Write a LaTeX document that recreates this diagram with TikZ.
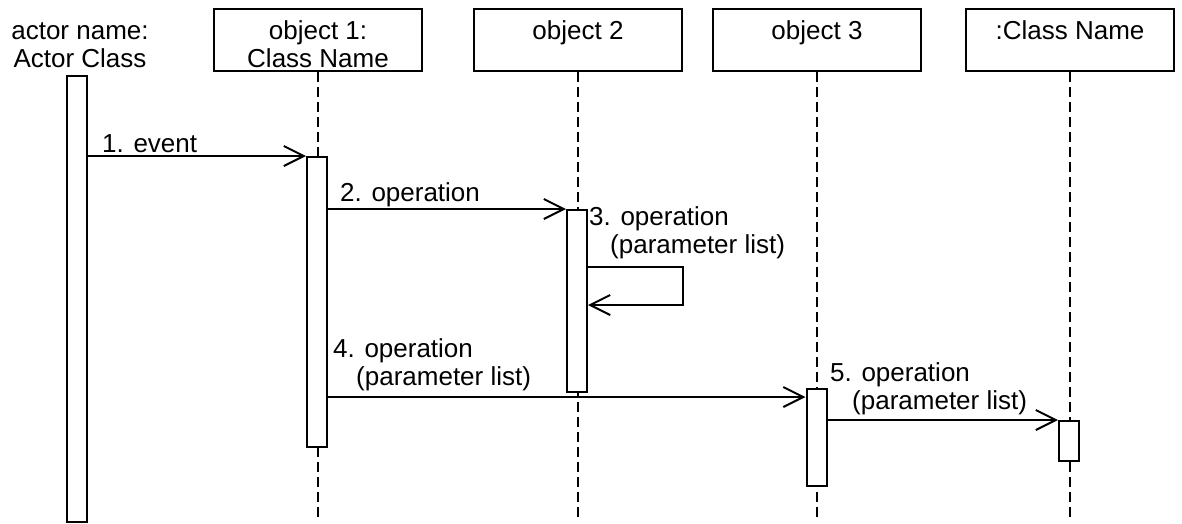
\documentclass[tikz,border=0pt]{standalone}
\usepackage{fontspec}
\setmainfont{Liberation Sans}
\usetikzlibrary{arrows.meta}

\begin{document}
\begin{tikzpicture}[
  x=1pt, y=-1pt,
  font=\fontsize{26}{28}\selectfont,
  >={Straight Barb[length=20pt,width=20pt]},
  msg/.style={->, line width=2pt},
  life/.style={line width=1.5pt, dash pattern=on 10pt off 5pt},
  objbox/.style={draw, line width=2pt, minimum width=208pt,
                 minimum height=62pt, inner sep=0pt, align=center,
                 text height=54pt, text depth=0pt},
  bar/.style={draw, fill=white, line width=2pt, minimum width=20pt,
              inner sep=0pt},
  lbl/.style={anchor=base west, inner sep=0pt, align=left}
]
\useasboundingbox (0,0) rectangle (1182,523);
\coordinate (bottom) at (0,521);

% ---------- actor and objects ----------
\node[align=center, inner sep=0pt] (actor) at (80,45) {actor name:\\Actor Class};
\node[objbox] (obj1) at (318,40)  {object 1:\\Class Name};
\node[objbox] (obj2) at (578,40)  {object 2\\~};
\node[objbox] (obj3) at (817,40)  {object 3\\~};
\node[objbox] (cls)  at (1070,40) {:Class Name\\~};

% ---------- lifelines ----------
\draw[life] (obj1.south) -- (obj1.south |- bottom);
\draw[life] (obj2.south) -- (obj2.south |- bottom);
\draw[life] (obj3.south) -- (obj3.south |- bottom);
\draw[life] (cls.south)  -- (cls.south |- bottom);

% ---------- activation bars ----------
\node[bar, minimum height=446pt] (bar0) at (76.5,299)   {};
\node[bar, minimum height=290pt] (bar1) at (317,302)    {};
\node[bar, minimum height=182pt] (bar2) at (577,301)    {};
\node[bar, minimum height=97pt]  (bar3) at (816.5,437.5) {};
\node[bar, minimum height=40pt]  (bar4) at (1069,441)   {};

% ---------- messages ----------
\draw[msg] (bar0.east |- bar1.north west) -- (bar1.north west);
\draw[msg] (bar1.east |- bar2.north west) -- (bar2.north west);
\draw[msg] ([yshift=-58pt]bar2.north east) -- ++(95,0) -- ++(0,38) -- ++(-95,0);
\coordinate (in4) at ([yshift=-9pt]bar3.north west);
\draw[msg] (bar1.east |- in4) -- (in4);
\draw[msg] (bar3.east |- bar4.north west) -- (bar4.north west);

% ---------- message labels ----------
\node[lbl] (m1) at (102,152) {1. event};
\node[lbl] (m2) at (340,201) {2. operation};
\node[lbl] (m3) at (589,253) {3. operation\\\hspace*{21pt}(parameter list)};
\node[lbl] (m4) at (333,385) {4. operation\\\hspace*{23pt}(parameter list)};
\node[lbl] (m5) at (830,409) {5. operation\\\hspace*{22pt}(parameter list)};

\end{tikzpicture}
\end{document}
